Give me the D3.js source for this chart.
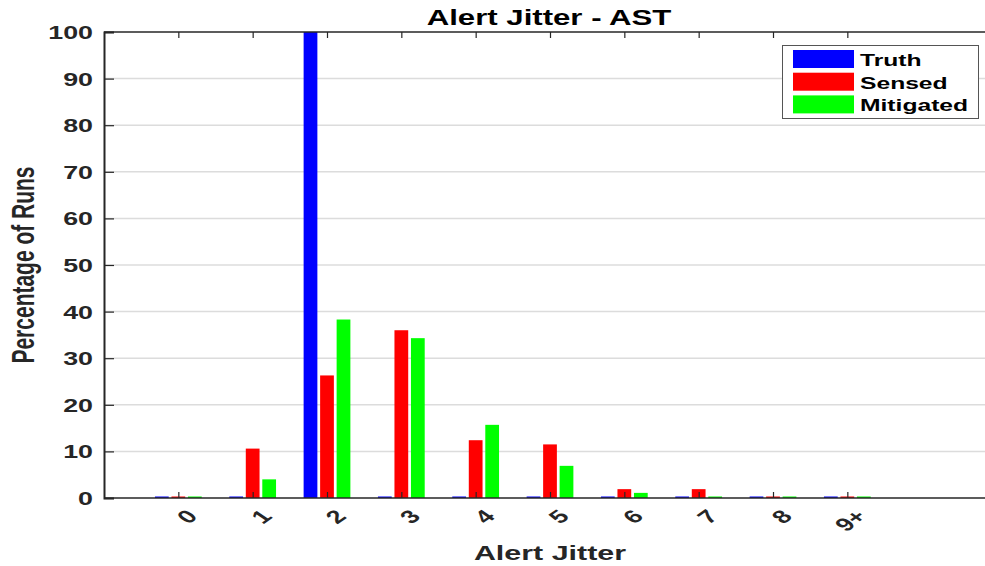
<!DOCTYPE html>
<html>
<head>
<meta charset="utf-8">
<script src="https://cdn.jsdelivr.net/npm/d3@7"></script>
<style>
  body { margin: 0; background: #fff; }
  text { font-family: Arial, "Liberation Sans", sans-serif; font-weight: bold; }
</style>
</head>
<body>
<svg id="chart" width="985" height="566"></svg>
<script>
// values
var categories = ["0", "1", "2", "3", "4", "5", "6", "7", "8", "9+"];
var truth     = [0, 0, 100, 0, 0, 0, 0, 0, 0, 0];
var sensed    = [0, 10.6, 26.3, 36.0, 12.4, 11.5, 1.9, 1.9, 0, 0];
var mitigated = [0, 4.0, 38.3, 34.3, 15.7, 6.9, 1.1, 0.2, 0, 0];
var seriesNames  = ["Truth", "Sensed", "Mitigated"];
var seriesColors = ["#0000ff", "#ff0000", "#00ff00"];
var yTicks = [0, 10, 20, 30, 40, 50, 60, 70, 80, 90, 100];

(function() {
  var series = [truth, sensed, mitigated];

  var svg = d3.select('#chart'),
      plotL = 104, plotR = 996, plotT = 32, plotB = 498,
      sx = 1.45, // the original figure is stretched sideways
      ink = '#262626';

  var x = d3.scaleLinear().domain([-1, categories.length + 1]).range([plotL, plotR]),
      y = d3.scaleLinear().domain([0, 100]).range([plotB, plotT]);

  var offset = 0.222, barW = 0.185;

  // grid
  svg.append('g')
    .selectAll('line')
    .data(yTicks.slice(1, -1))
    .enter()
      .append('line')
      .attr('x1', plotL).attr('x2', plotR)
      .attr('y1', function(d) { return y(d); })
      .attr('y2', function(d) { return y(d); })
      .attr('stroke', '#dcdcdc')
      .attr('stroke-width', 1.5);

  // bars (zero values still show as a thin line on the axis)
  series.forEach(function(vals, s) {
    svg.append('g')
      .selectAll('rect')
      .data(vals)
      .enter()
        .append('rect')
        .attr('x', function(d, i) { return x(i + (s - 1) * offset - barW / 2); })
        .attr('width', x(barW) - x(0))
        .attr('y', function(d) { return Math.min(y(d), plotB - 1.5); })
        .attr('height', function(d) { return plotB - Math.min(y(d), plotB - 1.5); })
        .attr('fill', seriesColors[s]);
  });

  // box lines
  svg.append('line').attr('x1', plotL).attr('x2', plotR).attr('y1', plotT).attr('y2', plotT)
    .attr('stroke', ink).attr('stroke-width', 1.5);
  svg.append('line').attr('x1', plotL).attr('x2', plotR).attr('y1', plotB).attr('y2', plotB)
    .attr('stroke', ink).attr('stroke-width', 1.5);

  // y axis, ticks inward
  var yAxis = svg.append('g')
    .attr('transform', 'translate(' + plotL + ',0)')
    .call(d3.axisLeft(y).tickValues(yTicks).tickSize(-10).tickPadding(0));
  yAxis.select('.domain').attr('stroke', ink).attr('stroke-width', 2);
  yAxis.selectAll('.tick line').attr('stroke', ink).attr('stroke-width', 1.2);
  yAxis.selectAll('.tick text')
    .attr('x', null).attr('dy', null)
    .attr('text-anchor', 'end')
    .attr('dominant-baseline', 'central')
    .attr('transform', 'translate(-11,0) scale(' + sx + ',1)')
    .attr('font-size', 18.5)
    .attr('font-family', 'Arial, "Liberation Sans", sans-serif')
    .attr('font-weight', 'bold')
    .attr('fill', ink);

  // top ticks
  var idx = d3.range(categories.length);
  svg.append('g')
    .attr('transform', 'translate(0,' + plotT + ')')
    .call(d3.axisTop(x).tickValues(idx).tickSize(-6).tickFormat(''))
    .call(function(g) { g.select('.domain').remove(); })
    .selectAll('.tick line').attr('stroke', ink).attr('stroke-width', 1.2);

  // bottom ticks + rotated labels
  var xAxis = svg.append('g')
    .attr('transform', 'translate(0,' + plotB + ')')
    .call(d3.axisBottom(x).tickValues(idx).tickSize(-6)
      .tickFormat(function(i) { return categories[i]; }));
  xAxis.select('.domain').remove();
  xAxis.selectAll('.tick line').attr('stroke', ink).attr('stroke-width', 1.2);
  xAxis.selectAll('.tick text')
    .attr('y', null).attr('dy', null)
    .attr('text-anchor', 'end')
    .attr('dominant-baseline', 'central')
    .attr('transform', 'translate(13.5,15) scale(' + sx + ',1) rotate(-45)')
    .attr('font-size', 18.5)
    .attr('font-family', 'Arial, "Liberation Sans", sans-serif')
    .attr('font-weight', 'bold')
    .attr('fill', ink);

  // titles
  svg.append('text')
    .attr('transform', 'translate(549,25) scale(' + sx + ',1)')
    .attr('text-anchor', 'middle')
    .attr('font-size', 21.5)
    .attr('fill', '#000')
    .text('Alert Jitter - AST');

  svg.append('text')
    .attr('transform', 'translate(550,560) scale(' + sx + ',1)')
    .attr('text-anchor', 'middle')
    .attr('font-size', 21)
    .attr('fill', ink)
    .text('Alert Jitter');

  svg.append('text')
    .attr('transform', 'translate(34,265) scale(' + sx + ',1) rotate(-90)')
    .attr('text-anchor', 'middle')
    .attr('font-size', 21)
    .attr('fill', ink)
    .text('Percentage of Runs');

  // legend
  var legend = svg.append('g');
  legend.append('rect')
    .attr('x', 782.5).attr('y', 45.5).attr('width', 196).attr('height', 73)
    .attr('fill', '#fff').attr('stroke', '#555').attr('stroke-width', 1);

  var entry = legend.selectAll('g.entry')
    .data(seriesNames)
    .enter()
      .append('g')
      .attr('class', 'entry')
      .attr('transform', function(d, i) { return 'translate(0,' + (i * 22.7) + ')'; });

  entry.append('rect')
    .attr('x', 793).attr('y', 50).attr('width', 61).attr('height', 18)
    .attr('fill', function(d, i) { return seriesColors[i]; });

  entry.append('text')
    .attr('transform', 'translate(860,66) scale(' + sx + ',1)')
    .attr('font-size', 17)
    .attr('fill', '#000')
    .text(function(d) { return d; });
})();
</script>
</body>
</html>
